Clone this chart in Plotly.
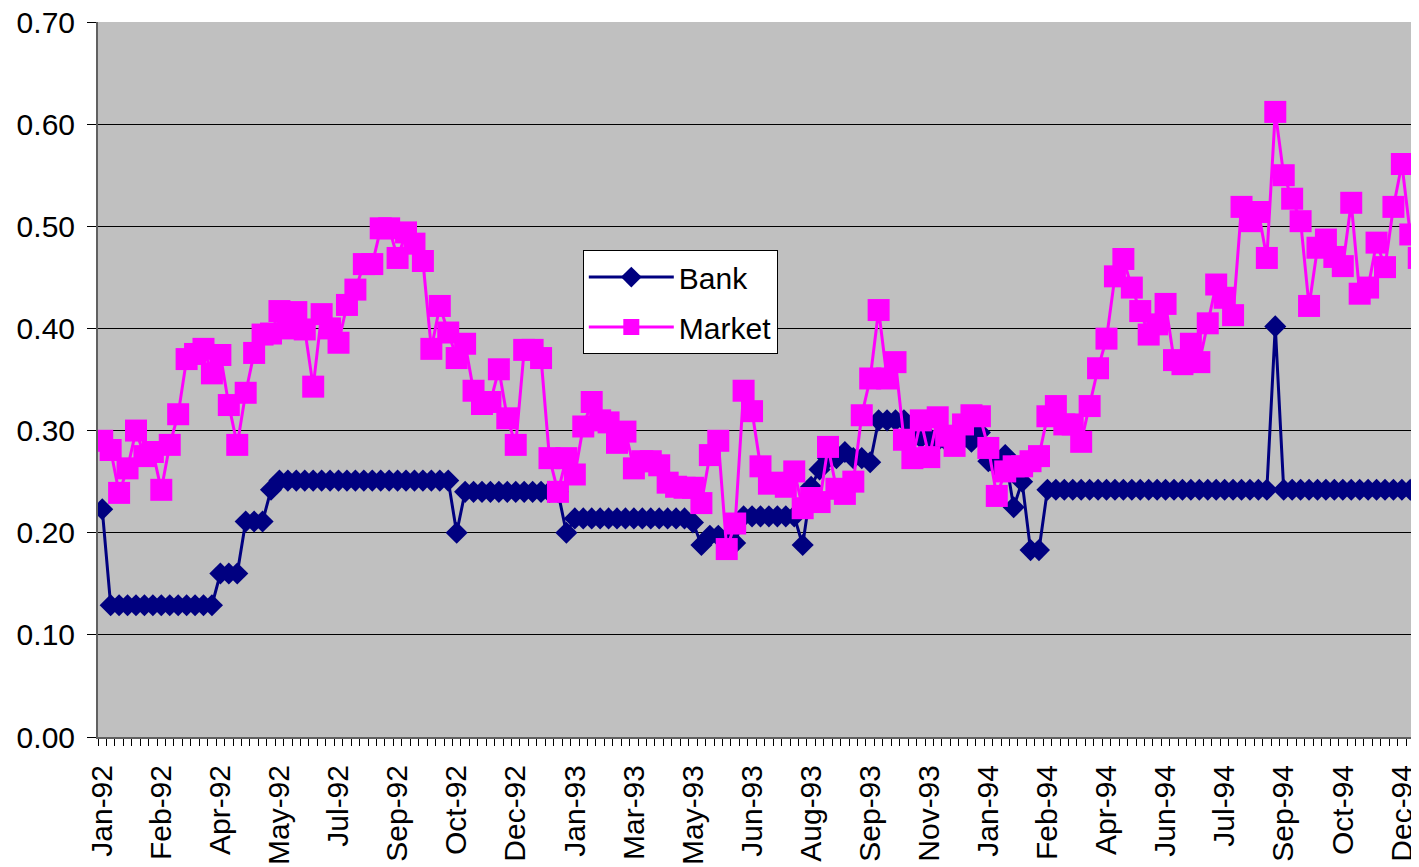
import plotly.graph_objects as go

tick_labels = ["Jan-92", "Feb-92", "Apr-92", "May-92", "Jul-92", "Sep-92", "Oct-92",
               "Dec-92", "Jan-93", "Mar-93", "May-93", "Jun-93", "Aug-93", "Sep-93",
               "Nov-93", "Jan-94", "Feb-94", "Apr-94", "Jun-94", "Jul-94", "Sep-94",
               "Oct-94", "Dec-94"]

y_ticks = [0.0, 0.1, 0.2, 0.3, 0.4, 0.5, 0.6, 0.7]

bank = [
    0.223, 0.129, 0.129, 0.129, 0.129, 0.129, 0.129, 0.129, 0.129, 0.129,
    0.129, 0.129, 0.129, 0.129, 0.160, 0.160, 0.160, 0.211, 0.211, 0.211,
    0.242, 0.251, 0.251, 0.251, 0.251, 0.251, 0.251, 0.251, 0.251, 0.251,
    0.251, 0.251, 0.251, 0.251, 0.251, 0.251, 0.251, 0.251, 0.251, 0.251,
    0.251, 0.251, 0.200, 0.240, 0.240, 0.240, 0.240, 0.240, 0.240, 0.240,
    0.240, 0.240, 0.240, 0.240, 0.240, 0.200, 0.214, 0.214, 0.214, 0.214,
    0.214, 0.214, 0.214, 0.214, 0.214, 0.214, 0.214, 0.214, 0.214, 0.214,
    0.210, 0.188, 0.197, 0.197, 0.195, 0.190, 0.216, 0.216, 0.216, 0.216,
    0.216, 0.216, 0.216, 0.188, 0.245, 0.262, 0.273, 0.273, 0.279, 0.273,
    0.273, 0.269, 0.310, 0.310, 0.310, 0.310, 0.300, 0.293, 0.293, 0.290,
    0.290, 0.288, 0.292, 0.289, 0.298, 0.270, 0.265, 0.276, 0.225, 0.250,
    0.183, 0.183, 0.242, 0.242, 0.242, 0.242, 0.242, 0.242, 0.242, 0.242,
    0.242, 0.242, 0.242, 0.242, 0.242, 0.242, 0.242, 0.242, 0.242, 0.242,
    0.242, 0.242, 0.242, 0.242, 0.242, 0.242, 0.242, 0.242, 0.242, 0.402,
    0.242, 0.242, 0.242, 0.242, 0.242, 0.242, 0.242, 0.242, 0.242, 0.242,
    0.242, 0.242, 0.242, 0.242, 0.242, 0.242, 0.242,
]

market = [
    0.290, 0.281, 0.239, 0.263, 0.300, 0.275, 0.279, 0.242, 0.286, 0.316,
    0.370, 0.375, 0.380, 0.356, 0.374, 0.325, 0.286, 0.337, 0.376, 0.394,
    0.395, 0.417, 0.400, 0.416, 0.399, 0.343, 0.414, 0.400, 0.386, 0.423,
    0.438, 0.463, 0.463, 0.498, 0.498, 0.469, 0.494, 0.483, 0.466, 0.380,
    0.422, 0.396, 0.371, 0.385, 0.339, 0.326, 0.328, 0.360, 0.312, 0.286,
    0.379, 0.379, 0.371, 0.273, 0.240, 0.273, 0.257, 0.304, 0.328, 0.310,
    0.308, 0.288, 0.299, 0.263, 0.270, 0.270, 0.266, 0.249, 0.245, 0.244,
    0.244, 0.229, 0.276, 0.290, 0.184, 0.209, 0.339, 0.319, 0.265, 0.248,
    0.249, 0.245, 0.260, 0.224, 0.234, 0.230, 0.284, 0.243, 0.238, 0.250,
    0.315, 0.351, 0.418, 0.351, 0.367, 0.291, 0.273, 0.310, 0.274, 0.313,
    0.295, 0.285, 0.306, 0.315, 0.314, 0.283, 0.236, 0.260, 0.265, 0.265,
    0.270, 0.275, 0.314, 0.324, 0.306, 0.306, 0.289, 0.324, 0.361, 0.390,
    0.451, 0.468, 0.440, 0.417, 0.394, 0.404, 0.424, 0.369, 0.365, 0.385,
    0.367, 0.405, 0.443, 0.430, 0.413, 0.519, 0.505, 0.514, 0.469, 0.612,
    0.550, 0.527, 0.505, 0.422, 0.479, 0.487, 0.470, 0.461, 0.523, 0.434,
    0.440, 0.484, 0.460, 0.519, 0.561, 0.492, 0.469,
]

x = list(range(len(bank)))
label_step = 7
tick_positions = x[::label_step][:len(tick_labels)]

FONT = "Liberation Sans, Arial, sans-serif"
FS = 30

fig = go.Figure()
fig.add_trace(go.Scatter(
    x=x, y=bank, name="Bank", mode="lines+markers", legendgroup="g1",
    line=dict(color="#000080", width=3),
    marker=dict(symbol="diamond", size=17, color="#000080",
                line=dict(color="#000080", width=0)),
))
fig.add_trace(go.Scatter(
    x=x, y=market, name="Market", mode="lines+markers", legendgroup="g2",
    line=dict(color="#FF00FF", width=3),
    marker=dict(symbol="square", size=22, color="#FF00FF",
                line=dict(color="#FF00FF", width=0)),
))

# page body has an 8px margin, so the figure is sized to fit the window
fig.update_layout(
    width=1411, height=859,
    margin=dict(l=90, r=0, t=14, b=130, autoexpand=False),
    paper_bgcolor="white",
    plot_bgcolor="#C0C0C0",
    font=dict(family=FONT, size=FS, color="black"),
    showlegend=True,
    legend=dict(
        x=0.367, y=0.681, xanchor="left", yanchor="top",
        bgcolor="white", bordercolor="black", borderwidth=1,
        font=dict(family=FONT, size=FS, color="black"),
        itemwidth=85, traceorder="grouped", tracegroupgap=8,
    ),
)

fig.update_xaxes(
    range=[-0.5, 156.03],
    tickmode="array", tickvals=tick_positions, ticktext=tick_labels,
    tickangle=-90, ticks="", ticklabelstandoff=14,
    tickfont=dict(family=FONT, size=FS, color="black"),
    showgrid=False, zeroline=False,
    showline=True, linecolor="#606060", linewidth=2,
    minor=dict(tickmode="linear", tick0=-0.5, dtick=1, ticks="outside",
               ticklen=7, tickwidth=1, tickcolor="black", showgrid=False),
)

fig.update_yaxes(
    range=[0, 0.70], tickmode="array", tickvals=y_ticks,
    ticktext=[f"{v:.2f}" for v in y_ticks],
    ticks="outside", ticklen=9, tickwidth=1, tickcolor="black",
    ticklabelstandoff=6, ticklabeloverflow="allow",
    tickfont=dict(family=FONT, size=FS, color="black"),
    showgrid=True, gridcolor="black", gridwidth=1,
    zeroline=False,
    showline=True, linecolor="#606060", linewidth=2,
)

fig.write_html("out.html")
